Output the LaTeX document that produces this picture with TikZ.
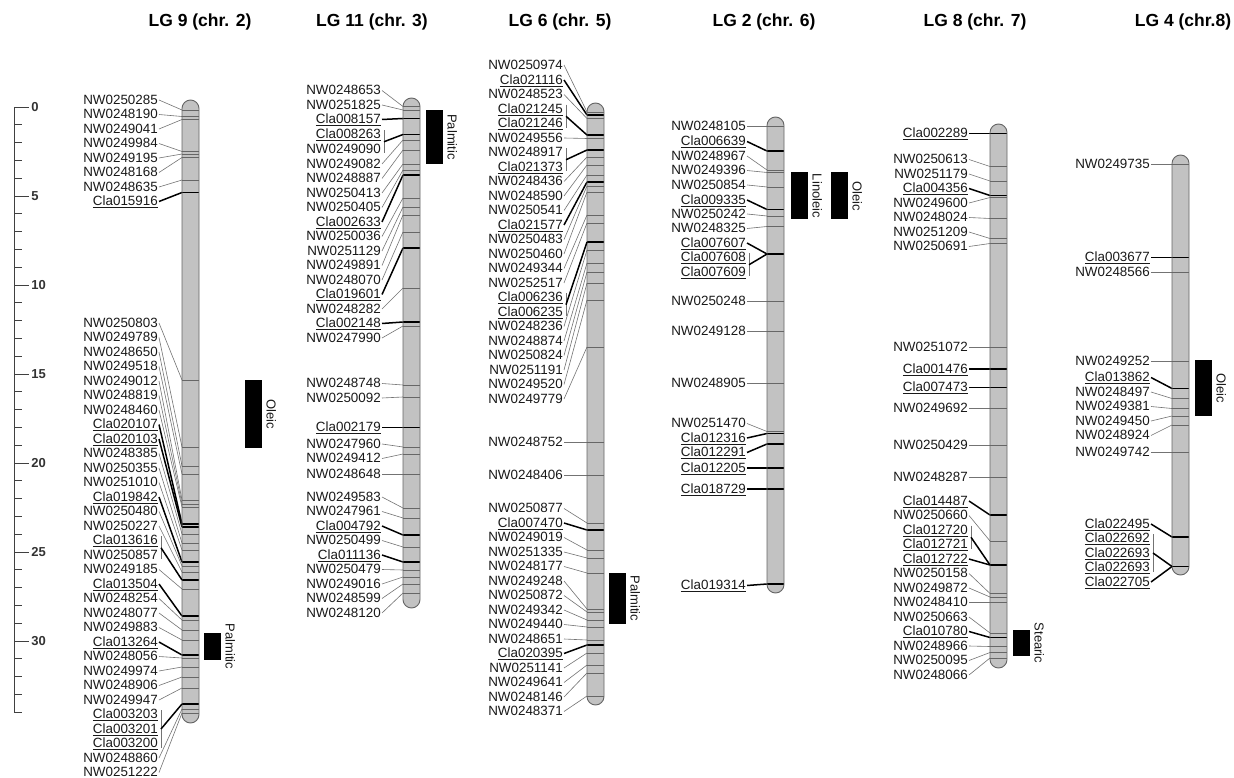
\documentclass[tikz,border=0pt]{standalone}
\usepackage{fontspec}
\setmainfont{Liberation Sans}
\usetikzlibrary{positioning}

% label text by marker kind
\newcommand{\txtn}[1]{#1}
\newcommand{\txtgn}[1]{#1}
\newcommand{\txtc}[1]{\underline{#1}}
\newcommand{\txtgc}[1]{\underline{#1}}

% markers of one linkage group: name, label edge, bar edge, list
\newcommand{\lgmarkers}[4]{%
  \foreach \lab/\ly/\by/\k in {#4} {
    \node[mlabel] (#1-\lab) at (#2, -\ly) {\csname txt\k\endcsname{\lab}};
    \coordinate (#1-\lab-b) at (#3, -\by);
    \draw[band-\k] (#1-\lab-b) -- ++(17,0);
    \draw[link-\k] (#1-\lab.east) -- (#1-\lab-b);
  }%
}

\begin{document}
\begin{tikzpicture}[x=1pt, y=1pt,
    title/.style={font=\fontsize{17.5}{20}\selectfont\bfseries},
    mlabel/.style={anchor=east, inner sep=1pt, text height=9.5, text depth=1, font=\fontsize{13.4}{14}\selectfont, text=black!90},
    scalelbl/.style={inner sep=2pt, font=\fontsize{13}{14}\selectfont\bfseries, text=black!80},
    ruler/.style={draw=black!75, line width=0.9pt},
    chromfill/.style={fill=black!24, rounded corners=8.5},
    chromline/.style={draw=black!60, line width=0.9pt, rounded corners=8.5},
    link-n/.style={draw=black!55, line width=0.6pt},
    link-c/.style={draw=black, line width=1.5pt},
    link-gn/.style={draw=none},
    link-gc/.style={draw=none},
    band-n/.style={draw=black!60, line width=0.7pt},
    band-c/.style={draw=black, line width=1.8pt},
    band-gn/.style={draw=none},
    band-gc/.style={band-c},
    bracket/.style={draw=black!55, line width=0.7pt},
    trait/.style={fill=black, minimum width=17, inner sep=0pt},
    traitlbl/.style={rotate=-90, anchor=south, inner sep=1pt, font=\fontsize{13}{14}\selectfont, text=black!90},
]
\fill[white] (0,0) rectangle (1234,-778);
\useasboundingbox (0,0) rectangle (1234,-778);

% Titles
\node[title] (t9) at (200,-22) {LG 9 (chr. 2)};
\node[title] (t11) at (372,-22) {LG 11 (chr. 3)};
\node[title] (t6) at (560,-22) {LG 6 (chr. 5)};
\node[title] (t2) at (764,-22) {LG 2 (chr. 6)};
\node[title] (t8) at (975,-22) {LG 8 (chr. 7)};
\node[title] (t4) at (1183,-22) {LG 4 (chr.8)};

% Scale (cM)
\draw[ruler] (14,-107) -- (14,-712.2);
\foreach \t in {0,...,34} \draw[ruler] (14,-107-17.8*\t) -- ++(8,0);
\foreach \t in {0,5,...,30} \draw[ruler] (14,-107-17.8*\t) -- ++(15,0) node[scalelbl, right] (s\t) {\t};

% LG 9
\fill[chromfill] (182,-100) rectangle (199,-723);
\lgmarkers{lg9}{159}{182}{NW0250285/100/110/n, NW0248190/114.5/116.5/n, NW0249041/129/119.5/n,
  NW0249984/143.5/151.5/n, NW0249195/158/154/n, NW0248168/172.5/157.5/n, NW0248635/187/180/n,
  Cla015916/201.5/192.5/c, NW0250803/323/380/n, NW0249789/337.5/447/n, NW0248650/352/466/n,
  NW0249518/366.5/474/n, NW0249012/381/500/n, NW0248819/395.5/504/n, NW0248460/410/507/n,
  Cla020107/424.5/524/c, Cla020103/439/527/c, NW0248385/453.5/534/n, NW0250355/468/543/n,
  NW0251010/482.5/550/n, Cla019842/497/562/c, NW0250480/511.5/566/n, NW0250227/526/572/n,
  Cla013616/540.5/580/gc, NW0250857/555/580/gn, NW0249185/569.5/589/n, Cla013504/584/616/c,
  NW0248254/598.5/620/n, NW0248077/613/630/n, NW0249883/627.5/640/n, Cla013264/642/655/c,
  NW0248056/656.5/658/n, NW0249974/671/667/n, NW0248906/685.5/677/n, NW0249947/700/688/n,
  Cla003203/714.5/704/gc, Cla003201/729/704/gc, Cla003200/743.5/704/gc,
  NW0248860/758/709/n, NW0251222/772.5/713/n}
\draw[chromline] (182,-100) rectangle (199,-723);
\draw[bracket] ([xshift=2,yshift=-2]lg9-Cla013616.north east) -- coordinate (g9a) ([xshift=2,yshift=2]lg9-NW0250857.south east);
\draw[link-c] (g9a) -- (lg9-Cla013616-b);
\draw[bracket] ([xshift=2,yshift=-2]lg9-Cla003203.north east) -- coordinate (g9b) ([xshift=2,yshift=2]lg9-Cla003200.south east);
\draw[link-c] (g9b) -- (lg9-Cla003203-b);
\node[trait, minimum height=68] (ol9) at (253.5,-414) {};
\node[traitlbl] (ol9-t) at ([xshift=3]ol9.east) {Oleic};
\node[trait, minimum height=27] (pa9) at (212.5,-646.5) {};
\node[traitlbl] (pa9-t) at ([xshift=3]pa9.east) {Palmitic};

% LG 11
\fill[chromfill] (403,-98) rectangle (420,-608);
\lgmarkers{lg11}{382}{403}{NW0248653/90.5/106.5/n, NW0251825/105/110/n, Cla008157/119.5/118.5/c,
  Cla008263/134.5/134.5/gc, NW0249090/149/134.5/gn, NW0249082/164/140/n, NW0248887/178.5/150/n,
  NW0250413/193/164/n, NW0250405/207.5/170/n, Cla002633/222/175/c, NW0250036/236.5/198/n,
  NW0251129/251/207/n, NW0249891/265.5/215/n, NW0248070/280/232/n, Cla019601/294.5/248/c,
  NW0248282/309/288/n, Cla002148/323.5/322/c, NW0247990/338/326/n, NW0248748/383.5/385/n,
  NW0250092/398/397/n, Cla002179/427.5/427.5/c, NW0247960/444/447/n, NW0249412/458.5/454/n,
  NW0248648/474/474/n, NW0249583/497/508/n, NW0247961/511.5/518/n, Cla004792/526/535/c,
  NW0250499/540.5/547/n, Cla011136/555/562/c, NW0250479/569.5/570/n, NW0249016/584/577/n,
  NW0248599/598.5/584/n, NW0248120/613/593/n}
\draw[chromline] (403,-98) rectangle (420,-608);
\draw[bracket] ([xshift=2,yshift=-2]lg11-Cla008263.north east) -- coordinate (g11a) ([xshift=2,yshift=2]lg11-NW0249090.south east);
\draw[link-c] (g11a) -- (lg11-Cla008263-b);
\node[trait, minimum height=54] (pa11) at (434.5,-137) {};
\node[traitlbl] (pa11-t) at ([xshift=3]pa11.east) {Palmitic};

% LG 6
\fill[chromfill] (587,-103) rectangle (604,-705);
\lgmarkers{lg6}{564}{587}{NW0250974/65/112/n, Cla021116/80/115/c, NW0248523/94.5/118.5/n,
  Cla021245/109/135/gc, Cla021246/123.5/135/gc, NW0249556/138/138.5/n, NW0248917/152.5/150/gn,
  Cla021373/167/150/gc, NW0248436/181.5/157/n, NW0248590/196/165/n, NW0250541/210.5/175/n,
  Cla021577/225/182/c, NW0250483/239.5/186/n, NW0250460/254/192/n, NW0249344/268.5/215/n,
  NW0252517/283/223/n, Cla006236/297.5/242/gc, Cla006235/312/242/gc, NW0248236/326.5/250/n,
  NW0248874/341/263/n, NW0250824/355.5/272/n, NW0251191/370/283/n, NW0249520/384.5/300/n,
  NW0249779/399/347/n, NW0248752/442/442/n, NW0248406/475/475/n, NW0250877/508.5/523/n,
  Cla007470/523/530/c, NW0249019/537.5/550/n, NW0251335/552/558/n, NW0248177/566.5/573/n,
  NW0249248/581/609/n, NW0250872/595.5/612/n, NW0249342/610/620/n, NW0249440/624.5/627/n,
  NW0248651/639/640/n, Cla020395/653.5/645/c, NW0251141/668/653/n, NW0249641/682.5/665/n,
  NW0248146/697/673/n, NW0248371/711.5/696/n}
\draw[chromline] (587,-103) rectangle (604,-705);
\draw[bracket] ([xshift=2,yshift=-2]lg6-Cla021245.north east) -- coordinate (g6a) ([xshift=2,yshift=2]lg6-Cla021246.south east);
\draw[link-c] (g6a) -- (lg6-Cla021245-b);
\draw[bracket] ([xshift=2,yshift=-2]lg6-NW0248917.north east) -- coordinate (g6b) ([xshift=2,yshift=2]lg6-Cla021373.south east);
\draw[link-c] (g6b) -- (lg6-Cla021373-b);
\draw[bracket] ([xshift=2,yshift=-2]lg6-Cla006236.north east) -- coordinate (g6c) ([xshift=2,yshift=2]lg6-Cla006235.south east);
\draw[link-c] (g6c) -- (lg6-Cla006236-b);
\node[trait, minimum height=51] (pa6) at (617.5,-598.5) {};
\node[traitlbl] (pa6-t) at ([xshift=3]pa6.east) {Palmitic};

% LG 2
\fill[chromfill] (767,-117) rectangle (784,-593);
\lgmarkers{lg2}{747}{767}{NW0248105/126/126/n, Cla006639/141.5/151/c, NW0248967/156/170/n,
  NW0249396/170.5/172.5/n, NW0250854/185/187/n, Cla009335/200/209.5/c, NW0250242/214/216/n,
  NW0248325/228.5/226.5/n, Cla007607/243/254/c, Cla007608/257.5/254/gc, Cla007609/272/254/gc,
  NW0250248/301.5/301.5/n, NW0249128/331/331/n, NW0248905/383.5/383.5/n, NW0251470/423.5/431.5/n,
  Cla012316/438/433.5/c, Cla012291/452.5/444/c, Cla012205/468/468/c, Cla018729/489/489/c,
  Cla019314/585.5/584/c}
\draw[chromline] (767,-117) rectangle (784,-593);
\draw[bracket] ([xshift=2,yshift=-2]lg2-Cla007608.north east) -- coordinate (g2a) ([xshift=2,yshift=2]lg2-Cla007609.south east);
\draw[link-c] (g2a) -- (lg2-Cla007608-b);
\node[trait, minimum height=47] (li2) at (799.5,-196) {};
\node[traitlbl] (li2-t) at ([xshift=3]li2.east) {Linoleic};
\node[trait, minimum height=47] (ol2) at (839.5,-196) {};
\node[traitlbl] (ol2-t) at ([xshift=3]ol2.east) {Oleic};

% LG 8
\fill[chromfill] (990,-124) rectangle (1007,-668);
\lgmarkers{lg8}{969}{990}{Cla002289/133.5/133.5/c, NW0250613/159.5/166.5/n, NW0251179/174/181/n,
  Cla004356/188.5/195.5/c, NW0249600/203/197.5/n, NW0248024/217.5/218.5/n, NW0251209/232/238.5/n,
  NW0250691/246.5/243.5/n, NW0251072/347.5/347.5/n, Cla001476/369/369/c, Cla007473/387.5/387.5/c,
  NW0249692/408.5/408.5/n, NW0250429/445.5/445.5/n, NW0248287/477.5/477.5/n, Cla014487/501/515/c,
  NW0250660/515.5/541/n, Cla012720/530/565/gc, Cla012721/544.5/565/gc, Cla012722/559/565/c,
  NW0250158/573.5/593.5/n, NW0249872/588/597/n, NW0248410/602.5/602.5/n, NW0250663/617/633/n,
  Cla010780/631.5/637.5/c, NW0248966/646/646.5/n, NW0250095/660.5/652.5/n, NW0248066/675/658/n}
\draw[chromline] (990,-124) rectangle (1007,-668);
\draw[bracket] ([xshift=2,yshift=-2]lg8-Cla012720.north east) -- coordinate (g8a) ([xshift=2,yshift=2]lg8-Cla012721.south east);
\draw[link-c] (g8a) -- (lg8-Cla012720-b);
\node[trait, minimum height=26] (st8) at (1021.5,-643) {};
\node[traitlbl] (st8-t) at ([xshift=3]st8.east) {Stearic};

% LG 4
\fill[chromfill] (1172,-155) rectangle (1189,-575);
\lgmarkers{lg4}{1151}{1172}{NW0249735/164.5/164.5/n, Cla003677/257.5/257.5/c, NW0248566/272/272/n,
  NW0249252/361/361/n, Cla013862/377.5/388.5/c, NW0248497/392/398.5/n, NW0249381/406.5/408.5/n,
  NW0249450/421/416/n, NW0248924/435.5/425/n, NW0249742/452.5/452.5/n, Cla022495/524/537/c,
  Cla022692/538.5/566.5/gc, Cla022693/553/566.5/gc, Cla022693/567.5/566.5/gc, Cla022705/582/566.5/c}
\draw[chromline] (1172,-155) rectangle (1189,-575);
\draw[bracket] ([xshift=2,yshift=-2]lg4-Cla022692.north east) -- coordinate (g4a) ([xshift=2,yshift=2]lg4-Cla022693.south east);
\draw[link-c] (g4a) -- (lg4-Cla022692-b);
\node[trait, minimum height=56] (ol4) at (1203.5,-388) {};
\node[traitlbl] (ol4-t) at ([xshift=3]ol4.east) {Oleic};

\end{tikzpicture}
\end{document}
